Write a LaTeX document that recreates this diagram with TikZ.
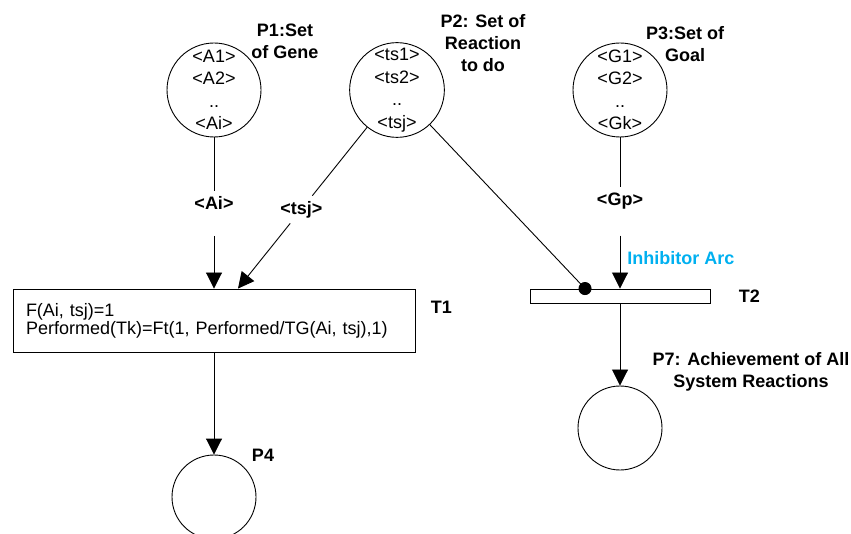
\documentclass[tikz,border=0pt]{standalone}
\usepackage{fontspec}
\setmainfont{Liberation Sans}
\usetikzlibrary{arrows.meta, positioning}
\definecolor{inhibblue}{RGB}{0,176,240}

\begin{document}
\begin{tikzpicture} [%
    x = 1pt, y = 1pt,
    >= {Triangle[length=16pt, width=16pt]},
    node distance = 100pt,
    on grid,
    line width = 0.9pt,
    font = \fontsize{18}{22.5}\selectfont,
    placenode/.style = {%
      circle, draw, minimum size = 94pt,
      inner sep = 0pt, align = center },
    endnode/.style = {placenode, minimum size = 84pt},
    transbox/.style = {%
      draw, minimum height = 63pt, text width = 376pt,
      inner xsep = 13pt, align = left,
      font = \fontsize{18}{16}\selectfont },
    transbar/.style = {%
      draw, minimum width = 180pt, minimum height = 14pt,
      inner sep = 0pt },
    tag/.style = {%
      align = center, inner sep = 0pt,
      font = \fontsize{18}{22}\selectfont\bfseries },
    arclabel/.style = {%
      inner xsep = 3pt, inner ysep = 5pt,
      font = \fontsize{18}{22}\selectfont\bfseries }
  ]
  \useasboundingbox (0,0) rectangle (851,533);

  \node[placenode] (P1) at (214,443) {<A1>\\<A2>\\..\\<Ai>};
  \node[placenode] (P2) [right=183pt of P1] {<ts1>\\<ts2>\\..\\<tsj>};
  \node[placenode] (P3) [right=223pt of P2] {<G1>\\<G2>\\..\\<Gk>};

  \node[transbox] (T1) [below=230.5pt of P1]
    {F(Ai, tsj)=1\\Performed(Tk)=Ft(1, Performed/TG(Ai, tsj),1)};
  \node[transbar] (T2) [below=206pt of P3] {};

  \node[endnode] (P4) [below=176.5pt of T1] {};
  \node[endnode] (P7) [below=132pt of T2] {};

  % place and transition names
  \node[tag] (P1tag) [above right=49pt and 71pt of P1] {P1:Set\\of Gene};
  \node[tag] (P2tag) [above right=46.5pt and 86pt of P2] {P2: Set of\\Reaction\\to do};
  \node[tag] (P3tag) [above right=45.5pt and 65pt of P3] {P3:Set of\\Goal};
  \node[tag] (T1tag) [above right=7pt and 15pt of T1.east] {T1};
  \node[tag] (T2tag) [right=28pt of T2.east] {T2};
  \node[tag] (P4tag) [above right=42pt and 49pt of P4] {P4};
  \node[tag] (P7tag) [above right=56pt and 131pt of P7]
    {P7: Achievement of All\\System Reactions};
  \node[tag, text=inhibblue] (inhtag) [above right=38pt and 7pt of T2, anchor=west]
    {Inhibitor Arc};

  % arc labels
  \node[arclabel] (ai) [below=113pt of P1] {<Ai>};
  \node[arclabel] (gp) [below=111pt of P3] {<Gp>};
  \coordinate (T1a) at (T1.north -| ai);
  \coordinate (T1b) at ([xshift=24pt]T1.north);
  \coordinate (T2a) at ([xshift=-35pt]T2.north);
  \coordinate (T2b) at (T2.north -| gp);
  \path (P2) -- node[arclabel, pos=0.51] (tsj) {<tsj>} (T1b);

  \path
  (P1) edge (ai)
  (ai) edge [->, shorten <=21pt] (T1a)

  (P2) edge (tsj)
  (tsj) edge [->] (T1b)
  (P2) edge [-{Circle[length=13pt]}, shorten >=-6.5pt] (T2a)

  (P3) edge (gp)
  (gp) edge [->, shorten <=21pt] (T2b)

  (T1) edge [->] (P4)
  (T2) edge [->] (P7);

\end{tikzpicture}
\end{document}
